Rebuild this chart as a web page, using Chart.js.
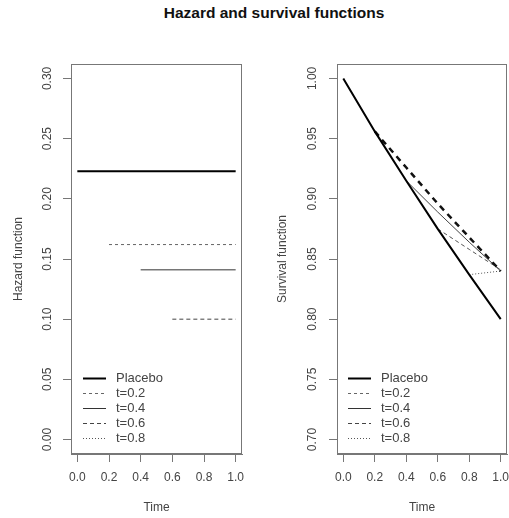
<!DOCTYPE html>
<html>
<head>
<meta charset="utf-8">
<script src="https://cdn.jsdelivr.net/npm/chart.js@4.4.1/dist/chart.umd.min.js"></script>
<style>
  body { margin: 0; background: #fff; }
  #wrap { position: relative; width: 509px; height: 518px; overflow: hidden; background: #fff; }
  #title { position: absolute; top: 4px; left: 0; width: 548px; text-align: center;
           font: bold 15.5px "Liberation Sans", Arial, sans-serif; color: #111; line-height: 18px; }
  canvas { position: absolute; top: 0; }
</style>
</head>
<body>
<div id="wrap">
  <div id="title">Hazard and survival functions</div>
  <canvas id="hazardChart" width="254" height="518" style="left:0"></canvas>
  <canvas id="survivalChart" width="255" height="518" style="left:254px"></canvas>
</div>
<script>
// Tick values
const timeTicks = [0, 0.2, 0.4, 0.6, 0.8, 1.0];
const hazardTicks = [0, 0.05, 0.10, 0.15, 0.20, 0.25, 0.30];
const survivalTicks = [0.70, 0.75, 0.80, 0.85, 0.90, 0.95, 1.00];

// Series
const seriesNames = ['Placebo', 't=0.2', 't=0.4', 't=0.6', 't=0.8'];
const startTimes = [0, 0.2, 0.4, 0.6, 0.8];
// constant hazard from the start time up to 1.0
const hazardValues = [0.223, 0.162, 0.141, 0.100, -0.021];

// survival at t = 0, 0.2, ..., 1.0 (null before the curve starts)
const survPlacebo = [1.000, 0.956, 0.915, 0.875, 0.837, 0.800];
const survT02 = [null, 0.956, 0.926, 0.896, 0.868, 0.840];
const survT04 = [null, null, 0.915, 0.889, 0.864, 0.840];
const survT06 = [null, null, null, 0.875, 0.858, 0.841];
const survT08 = [null, null, null, null, 0.837, 0.840];
const survivalSeries = [survPlacebo, survT02, survT04, survT06, survT08];

const FONT = '"Liberation Sans", Arial, sans-serif';
const TEXT = '#444';
const FRAME = '#777';

// Line styles (color, width, dash)
const hazardStyles = [
    { color: '#000', width: 2, dash: [] },
    { color: '#666', width: 1, dash: [3, 3] },
    { color: '#333', width: 1, dash: [] },
    { color: '#444', width: 1, dash: [4, 3] },
    { color: '#555', width: 1, dash: [1, 2] }
];
const survivalStyles = [
    { color: '#000', width: 2, dash: [] },
    { color: '#111', width: 2.5, dash: [6, 5] },
    { color: '#444', width: 1, dash: [] },
    { color: '#555', width: 1, dash: [4, 3] },
    { color: '#555', width: 1, dash: [1, 2] }
];
// legend sample styles are the same for both panels
const legendStyles = hazardStyles;

function makeDataset(name, points, style) {
    return {
        label: name,
        data: points,
        borderColor: style.color,
        borderWidth: style.width,
        borderDash: style.dash,
        pointRadius: 0,
        fill: false,
        tension: 0,
        showLine: true
    };
}

const hazardDatasets = seriesNames.map((name, i) => makeDataset(name, [
    { x: startTimes[i], y: hazardValues[i] },
    { x: 1.0, y: hazardValues[i] }
], hazardStyles[i]));

const survivalDatasets = seriesNames.map((name, i) => makeDataset(name,
    timeTicks.map((t, j) => ({ x: t, y: survivalSeries[i][j] })).filter(p => p.y !== null),
    survivalStyles[i]));

// Draws box, tick labels, axis titles and legend in R style
const rFrame = {
    id: 'rFrame',
    afterDraw(chart, args, opts) {
        const ctx = chart.ctx;
        const area = chart.chartArea;
        const xs = chart.scales.x;
        const ys = chart.scales.y;
        ctx.save();

        // box
        ctx.strokeStyle = FRAME;
        ctx.lineWidth = 1;
        ctx.strokeRect(Math.round(area.left) + 0.5, Math.round(area.top) + 0.5,
            Math.round(area.right - area.left) - 1, Math.round(area.bottom - area.top) - 1);

        ctx.fillStyle = TEXT;
        ctx.font = '12px ' + FONT;

        // x tick labels
        ctx.textAlign = 'center';
        ctx.textBaseline = 'middle';
        xs.ticks.forEach(t => {
            ctx.fillText(t.value.toFixed(1), xs.getPixelForValue(t.value), 478);
        });
        ctx.fillText('Time', (area.left + area.right) / 2, 508);

        // y tick labels (rotated)
        ys.ticks.forEach(t => {
            ctx.save();
            ctx.translate(opts.yLabelX, ys.getPixelForValue(t.value));
            ctx.rotate(-Math.PI / 2);
            ctx.fillText(t.value.toFixed(2), 0, 0);
            ctx.restore();
        });

        // y title
        ctx.save();
        ctx.translate(opts.yTitleX, (area.top + area.bottom) / 2);
        ctx.rotate(-Math.PI / 2);
        ctx.fillText(opts.yTitle, 0, 0);
        ctx.restore();

        // legend
        ctx.textAlign = 'left';
        ctx.font = '13px ' + FONT;
        chart.data.datasets.forEach((ds, i) => {
            const y = 378 + i * 15;
            const x0 = area.left + opts.legendOffset;
            const st = legendStyles[i];
            ctx.save();
            ctx.strokeStyle = st.color;
            ctx.lineWidth = st.width;
            ctx.setLineDash(st.dash);
            ctx.beginPath();
            ctx.moveTo(x0, y + 0.5);
            ctx.lineTo(x0 + 23, y + 0.5);
            ctx.stroke();
            ctx.restore();
            ctx.fillText(ds.label, x0 + 33, y);
        });

        ctx.restore();
    }
};

function makeChart(id, datasets, yMin, yMax, yTicks, frame, padding) {
    const axisGrid = {
        display: true,
        drawOnChartArea: false,
        drawTicks: true,
        tickLength: 8,
        color: FRAME,
        lineWidth: 1
    };
    return new Chart(document.getElementById(id).getContext('2d'), {
        type: 'line',
        data: { datasets: datasets },
        options: {
            responsive: false,
            animation: false,
            layout: { padding: padding },
            scales: {
                x: {
                    type: 'linear',
                    min: -0.04,
                    max: 1.04,
                    grid: axisGrid,
                    border: { display: true, color: FRAME },
                    ticks: { display: false },
                    afterBuildTicks: scale => { scale.ticks = timeTicks.map(v => ({ value: v })); }
                },
                y: {
                    type: 'linear',
                    min: yMin,
                    max: yMax,
                    grid: axisGrid,
                    border: { display: true, color: FRAME },
                    ticks: { display: false },
                    afterBuildTicks: scale => { scale.ticks = yTicks.map(v => ({ value: v })); }
                }
            },
            plugins: {
                legend: { display: false },
                tooltip: { enabled: false },
                rFrame: frame
            }
        },
        plugins: [rFrame]
    });
}

makeChart('hazardChart', hazardDatasets, -0.012, 0.312, hazardTicks,
    { yTitle: 'Hazard function', yLabelX: 48, yTitleX: 19, legendOffset: 12 },
    { left: 63, right: 12, top: 64, bottom: 56 });

makeChart('survivalChart', survivalDatasets, 0.688, 1.012, survivalTicks,
    { yTitle: 'Survival function', yLabelX: 59, yTitleX: 29, legendOffset: 11 },
    { left: 75, right: 2, top: 64, bottom: 56 });
</script>
</body>
</html>
